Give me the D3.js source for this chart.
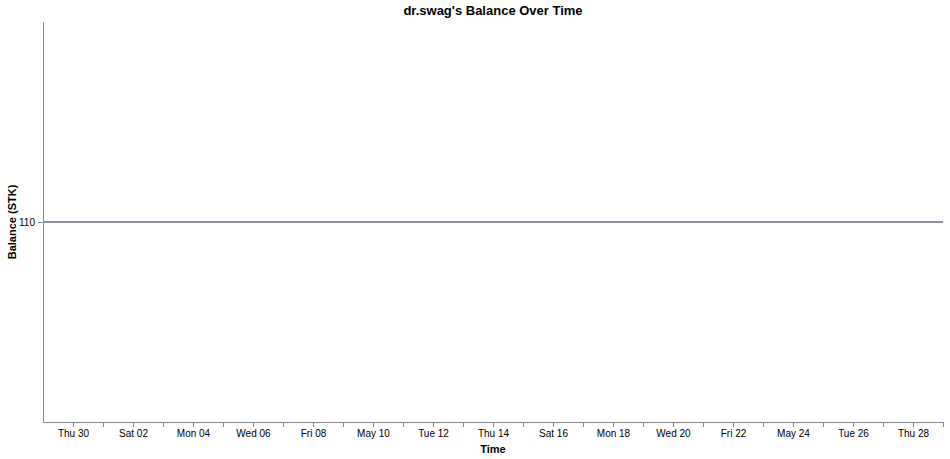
<!DOCTYPE html>
<html lang="en">
    <head>
        <meta charset="UTF-8">
        <title>dr.swag's Balance Over Time</title>
        <script src="https://d3js.org/d3.v7.min.js"></script>
        <style>
            body { margin: 0; background: #fff; font-family: "Liberation Sans", Arial, sans-serif; }
            .axis path, .axis line { stroke: #888; }
            .axis text { fill: #000; font-size: 10px; font-family: "Liberation Sans", Arial, sans-serif; }
        </style>
    </head>

    <body>
        <script>
            // balance history (STK)
            const dates = ["2020-04-29", "2020-05-29"];
            const balances = [110, 110];
            const yTicks = [110];
            const xTickStart = "2020-04-30";
            const xTickEnd = "2020-05-29";

            const parse = d3.timeParse("%Y-%m-%d");
            const data = dates.map((d, i) => ({ date: parse(d), value: balances[i] }));

            const width = 950, height = 459;
            const margin = { top: 22, right: 7, bottom: 37, left: 43 };
            const w = width - margin.left - margin.right;
            const h = height - margin.top - margin.bottom;

            const svg = d3.select("body").append("svg")
                .attr("width", width)
                .attr("height", height);

            const g = svg.append("g")
                .attr("transform", `translate(${margin.left},${margin.top})`);

            const x = d3.scaleTime()
                .domain(d3.extent(data, d => d.date))
                .range([0, w]);

            const y = d3.scaleLinear()
                .domain([109, 111])
                .range([h, 0]);

            // ticks every day, label every other day
            const dayTicks = d3.timeDay.range(parse(xTickStart), d3.timeDay.offset(parse(xTickEnd), 1));
            const fmt = x.tickFormat();
            const xAxis = d3.axisBottom(x)
                .tickValues(dayTicks)
                .tickSizeInner(5)
                .tickSizeOuter(0)
                .tickFormat((d, i) => i % 2 === 0 ? fmt(d) : "");

            g.append("g")
                .attr("class", "x axis")
                .attr("transform", `translate(0,${h})`)
                .call(xAxis);

            const yAxis = d3.axisLeft(y)
                .tickValues(yTicks)
                .tickSizeInner(5)
                .tickSizeOuter(0)
                .tickFormat(d3.format("d"));

            g.append("g")
                .attr("class", "y axis")
                .call(yAxis);

            const line = d3.line()
                .x(d => x(d.date))
                .y(d => y(d.value));

            g.append("path")
                .datum(data)
                .attr("fill", "none")
                .attr("stroke", "#8a929e")
                .attr("stroke-width", 2)
                .attr("d", line);

            svg.append("text")
                .attr("x", margin.left + w / 2)
                .attr("y", 15)
                .attr("text-anchor", "middle")
                .attr("font-size", 13)
                .attr("font-weight", "bold")
                .text("dr.swag's Balance Over Time");

            svg.append("text")
                .attr("x", margin.left + w / 2)
                .attr("y", 453)
                .attr("text-anchor", "middle")
                .attr("font-size", 11)
                .attr("font-weight", "bold")
                .text("Time");

            svg.append("text")
                .attr("transform", `translate(16,${margin.top + h / 2}) rotate(-90)`)
                .attr("text-anchor", "middle")
                .attr("font-size", 11)
                .attr("font-weight", "bold")
                .text("Balance (STK)");
        </script>
    </body>
</html>
